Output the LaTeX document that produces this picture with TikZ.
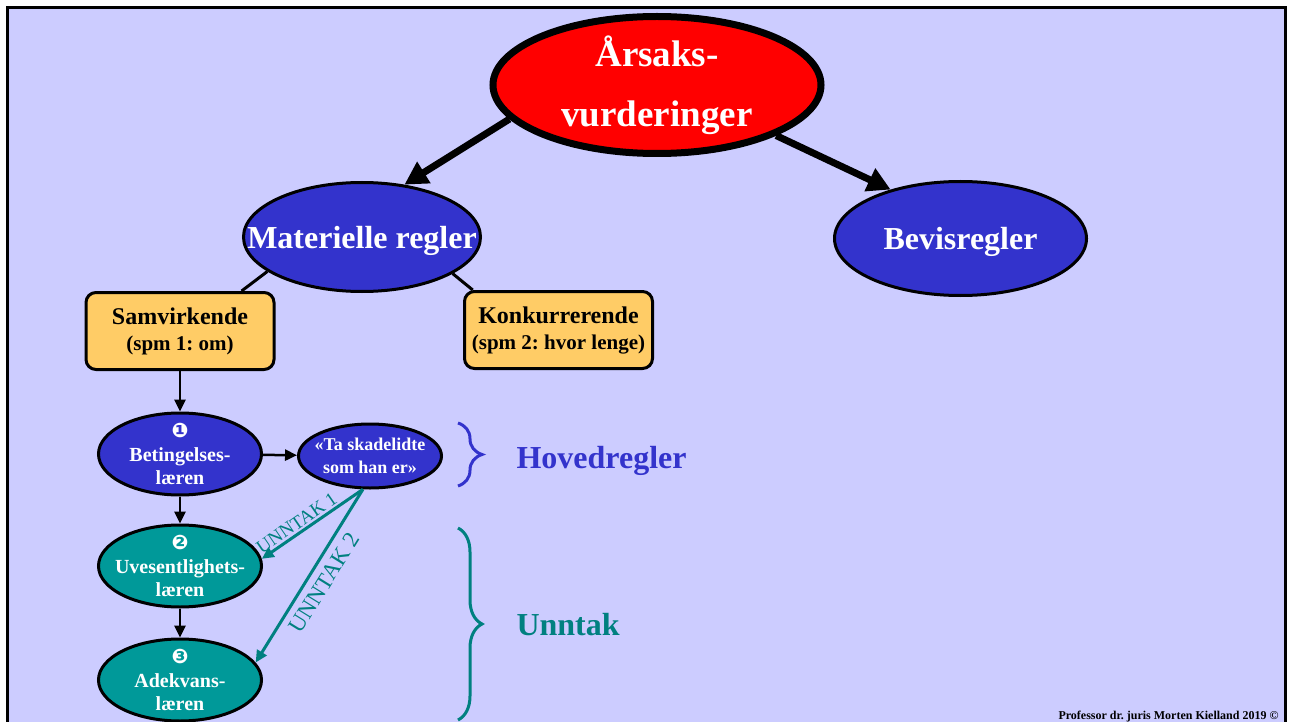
\documentclass[tikz,border=0pt]{standalone}
\usepackage{fontspec}
\setmainfont{Liberation Serif}
\newfontfamily\dingfont{DejaVu Sans}
\usetikzlibrary{shapes.geometric,arrows.meta,decorations.pathreplacing}
\definecolor{lav}{HTML}{CCCCFF}
\definecolor{blaa}{HTML}{3333CC}
\definecolor{groenn}{HTML}{009999}
\definecolor{teal2}{HTML}{008080}
\definecolor{gul}{HTML}{FFCC66}
\frenchspacing

\begin{document}
\begin{tikzpicture}[x=1pt,y=-1pt,
  ell/.style={ellipse,draw,line width=3pt,fill=blaa,text=white,align=center,
    inner xsep=-40pt,inner ysep=-12pt},
  big/.style={ell,font=\fontsize{32}{36}\selectfont\bfseries,text depth=0pt},
  small/.style={ell,minimum width=163pt,minimum height=82pt,
    font=\fontsize{20}{23.5}\selectfont\bfseries},
  boks/.style={rectangle,draw,line width=3pt,rounded corners=10pt,fill=gul,
    minimum width=188pt,minimum height=77pt,inner sep=0pt,align=center,
    font=\fontsize{21}{26}\selectfont\bfseries},
  pil/.style={-{Triangle[length=12pt,width=11pt]},line width=2.5pt},
  tykkpil/.style={-{Triangle[length=23pt,width=24pt]},line width=7pt},
  unntakpil/.style={-{Triangle[length=12pt,width=11pt]},line width=3pt,draw=teal2},
  unntaktekst/.style={sloped,text=teal2,inner sep=2pt},
  klamme/.style={decorate,decoration={brace,amplitude=24pt},line width=3pt},
  merke/.style={font=\fontsize{32}{36}\selectfont\bfseries,anchor=base west}]

\useasboundingbox (0,0) rectangle (1293,722);
\fill[white] (0,0) rectangle (1293,722);
\fill[lav] (7.5,7.5) rectangle (1285.3,722);
\draw[line width=3pt] (7.5,722) |- (1285.3,7.5) -- (1285.3,722);

\node [ell,fill=red,line width=7pt,minimum width=328pt,minimum height=137pt,
  font=\fontsize{37}{60}\selectfont\bfseries] (aarsak) at (657,85) {Årsaks-\\vurderinger};
\node [big,minimum width=237pt,minimum height=109pt] (materielle) at (362,237) {Materielle regler};
\node [big,minimum width=252pt,minimum height=114pt] (bevis) at (960.5,238.5) {Bevisregler};

\node [boks] (samvirk) at (180,331)
  {{\fontsize{24}{26}\selectfont Samvirkende}\\(spm 1: om)};
\node [boks] (konkurr) at (558.5,330)
  {{\fontsize{24}{26}\selectfont Konkurrerende}\\(spm 2: hvor lenge)};

\node [small] (beting) at (180,454) {{\dingfont\fontsize{20}{20}\selectfont ❶}\\Betingelses-\\læren};
\node [small,minimum width=143pt,minimum height=64pt,font=\fontsize{18}{22.6}\selectfont\bfseries]
  (skadelidte) at (370,456) {«Ta skadelidte\\som han er»};
\node [small,fill=groenn] (uvesentl) at (180,566) {{\dingfont\fontsize{20}{20}\selectfont ❷}\\Uvesentlighets-\\læren};
\node [small,fill=groenn] (adekvans) at (180,680) {{\dingfont\fontsize{20}{20}\selectfont ❸}\\Adekvans-\\læren};

\draw [tykkpil] (aarsak.193) -- (materielle.51);
\draw [tykkpil] (aarsak.337.5) -- (bevis.145);
\draw [line width=3pt] (materielle.200) -- (samvirk.33);
\draw [line width=3pt] (materielle.338) -- (konkurr.155);

\draw [pil] (samvirk) -- (beting);
\draw [pil] (beting) -- (skadelidte);
\draw [pil] (beting) -- (uvesentl);
\draw [pil] (uvesentl) -- (adekvans);

\draw [unntakpil] (skadelidte.258) -- node [unntaktekst,above,pos=0.6,font=\fontsize{19}{19}\selectfont] {UNNTAK 1} (uvesentl.5);
\draw [unntakpil] (skadelidte.258) -- node [unntaktekst,below=5pt,pos=0.49,font=\fontsize{23}{23}\selectfont] {UNNTAK 2} (adekvans.13.5);

\draw [klamme,blaa] (458,423) -- (458,486);
\draw [klamme,teal2] (458,528) -- (458,720);
\node [merke,text=blaa] (hoved) at (513,468) {Hovedregler};
\node [merke,text=teal2] (unntak) at (513,635) {Unntak};

\node [anchor=base east,font=\fontsize{12}{12}\selectfont\bfseries] (fot) at (1282,719)
  {Professor dr. juris Morten Kielland 2019 ©};
\end{tikzpicture}
\end{document}
